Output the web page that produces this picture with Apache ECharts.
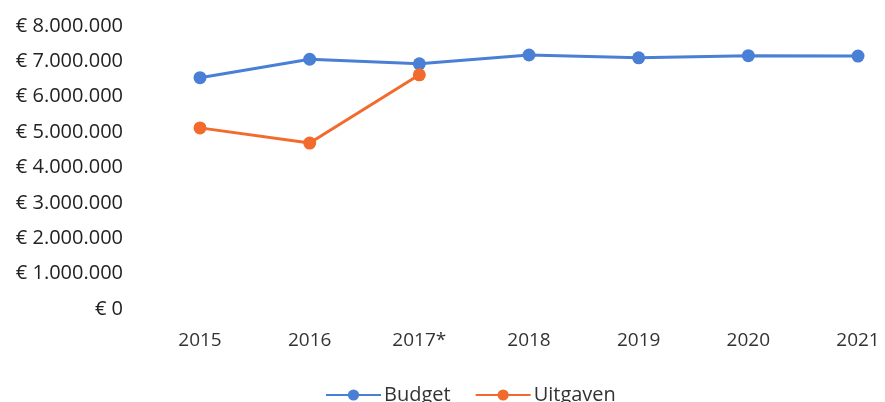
<!DOCTYPE html>
<html>
<head>
<meta charset="utf-8">
<script src="https://cdn.jsdelivr.net/npm/echarts@6/dist/echarts.min.js"></script>
<style>
  html, body { margin: 0; padding: 0; background: #fff; }
  #chart { width: 885px; height: 402px; }
</style>
</head>
<body>
<div id="chart"></div>
<script>
var years = ['2015', '2016', '2017*', '2018', '2019', '2020', '2021'];
var budget = [6540000, 7060000, 6930000, 7180000, 7100000, 7160000, 7150000];
var uitgaven = [5120000, 4690000, 6620000, null, null, null, null];

var chart = echarts.init(document.getElementById('chart'));

// € 1.000.000 style labels
function euro(v) {
    return '€ ' + String(v).replace(/\B(?=(\d{3})+(?!\d))/g, '.');
}

var option = {
    animation: false,
    textStyle: { fontFamily: 'Open Sans' },
    grid: { left: 200, right: 27, top: 26, bottom: 93 },
    legend: {
        bottom: -8,
        left: 320,
        itemWidth: 55,
        itemHeight: 14,
        itemGap: 24,
        textStyle: { fontSize: 20, color: '#333', padding: [0, 0, 0, -2] },
        data: ['Budget', 'Uitgaven']
    },
    xAxis: {
        type: 'category',
        boundaryGap: false,
        data: years,
        axisLine: { show: false },
        axisTick: { show: false },
        axisLabel: { fontSize: 19, color: '#333', margin: 22 }
    },
    yAxis: {
        type: 'value',
        min: 0,
        max: 8000000,
        interval: 1000000,
        splitLine: { show: false },
        axisLine: { show: false },
        axisTick: { show: false },
        axisLabel: { fontSize: 20, color: '#222', margin: 77, formatter: euro }
    },
    series: [
        {
            name: 'Budget',
            type: 'line',
            data: budget,
            symbol: 'circle',
            symbolSize: 13,
            itemStyle: { color: '#4a7fd6' },
            lineStyle: { width: 3, color: '#4a7fd6' }
        },
        {
            name: 'Uitgaven',
            type: 'line',
            data: uitgaven,
            symbol: 'circle',
            symbolSize: 13,
            itemStyle: { color: '#f26b2d' },
            lineStyle: { width: 3, color: '#f26b2d' }
        }
    ]
};

chart.setOption(option);
</script>
</body>
</html>
